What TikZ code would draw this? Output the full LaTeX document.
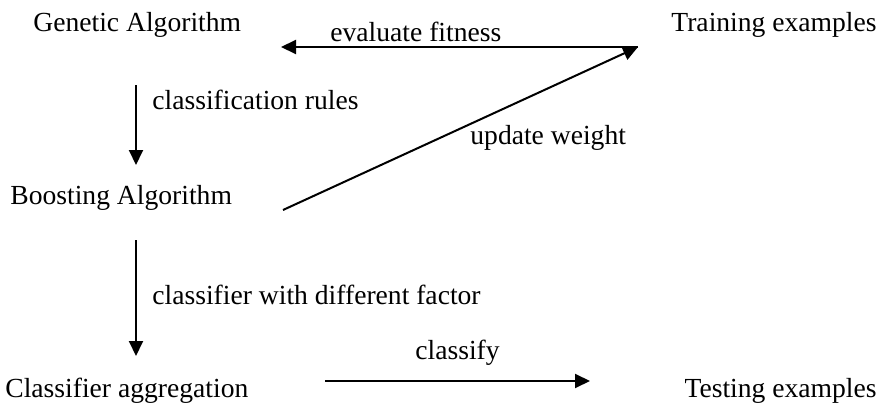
\documentclass[tikz,border=0pt]{standalone}
\usepackage{fontspec}
\setmainfont{Liberation Serif}
\usetikzlibrary{arrows.meta}

\tikzset{
  txt/.style={inner sep=0pt,anchor=base west,font=\fontsize{13.8}{16}\selectfont},
  txtr/.style={txt,anchor=base east},
  flow/.style={-{Triangle[length=7.5pt,width=7pt]},line width=1pt}
}

\begin{document}
\begin{tikzpicture}[x=0.5pt,y=-0.5pt]
    \useasboundingbox (0,0) rectangle (885,407);
    % the five blocks
    \node[txt] (GA) at (33,32) {Genetic Algorithm};
    \node[txtr] (TR) at (877,32) {Training examples};
    \node[txt] (BA) at (10,204) {Boosting Algorithm};
    \node[txt] (CA) at (5,397) {Classifier aggregation};
    \node[txtr] (TE) at (877,397) {Testing examples};
    % arrow ends
    \coordinate (fitL) at (281,47);
    \coordinate (fitR) at (638,47);
    \coordinate (upL) at (283,210);
    \coordinate (rulT) at (136,85);
    \coordinate (rulB) at (136,165);
    \coordinate (facT) at (136,240);
    \coordinate (facB) at (136,356);
    \coordinate (clsL) at (325,381);
    \coordinate (clsR) at (590,381);
    \draw[flow] (fitR) -- (fitL);
    \draw[flow] (upL) -- (fitR);
    \draw[flow] (rulT) -- (rulB);
    \draw[flow] (facT) -- (facB);
    \draw[flow] (clsL) -- (clsR);
    % labels
    \node[txt] (lfit) at (330,41) {evaluate fitness};
    \node[txt] (lrul) at (152,109) {classification rules};
    \node[txt] (lup) at (470,144) {update weight};
    \node[txt] (lfac) at (152,304) {classifier with different factor};
    \node[txt] (lcls) at (415,359) {classify};
\end{tikzpicture}
\end{document}
